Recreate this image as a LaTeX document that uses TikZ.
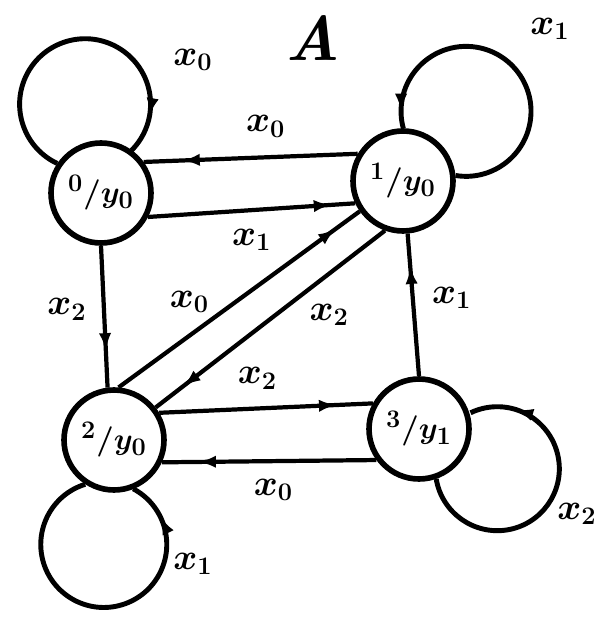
\documentclass[tikz,border=0pt]{standalone}
\usepackage{amsmath}
\usepackage{amssymb}
\usepackage{tikz}
\usetikzlibrary{arrows.meta,positioning,calc,decorations.markings,backgrounds}
\tikzstyle{state} = [draw, circle, line width=3.2pt, fill=white, minimum size=2cm, inner sep=0pt, font=\fontsize{19}{22}\selectfont\boldmath]
\tikzstyle{trans} = [line width=2.4pt]
\tikzstyle{loopline} = [line width=2.8pt]
\tikzstyle{lbl} = [font=\fontsize{21}{25}\selectfont\boldmath]
\tikzset{arr/.style={postaction={decorate}, decoration={markings, mark=at position #1 with {\arrow{Latex[length=10pt,width=7pt]}}}}}

\begin{document}
\begin{tikzpicture}[x=0.02cm, y=-0.02cm]
    \useasboundingbox (0,0) rectangle (604,617);
    % States
    \node [state] (q0) at (101,193) {$^{0}/y_{0}$};
    \node [state] (q1) at (403,181) {$^{1}/y_{0}$};
    \node [state] (q2) at (114,440) {$^{2}/y_{0}$};
    \node [state] (q3) at (419,429) {$^{3}/y_{1}$};
    \node [font=\fontsize{36}{40}\selectfont\bfseries\itshape] (title) at (313,38) {A};

    % Transitions
    \draw [trans, arr=0.82] (q1.149) -- node [lbl, pos=0.43, shift={(0,-31)}] {$x_0$} (q0.36);
    \draw [trans, arr=0.885] (q0.333) -- node [lbl, pos=0.5, shift={(0,30)}] {$x_1$} (q1.205);
    \draw [trans, arr=0.74] (q0.270) -- node [lbl, pos=0.45, shift={(-37,0)}] {$x_2$} (q2.97);
    \draw [trans, arr=0.9] (q2.85) -- node [lbl, pos=0.36, shift={(-16,-22)}] {$x_0$} (q1.215);
    \draw [trans, arr=0.88] (q1.250) -- node [lbl, pos=0.33, shift={(20,26)}] {$x_2$} (q2.38);
    \draw [trans, arr=0.77] (q3.90) -- node [lbl, pos=0.55, shift={(39,0)}] {$x_1$} (q1.275);
    \draw [trans, arr=0.83] (q2.31) -- node [lbl, pos=0.46, shift={(0,-30)}] {$x_2$} (q3.151);
    \draw [trans, arr=0.83] (q3.216) -- node [lbl, pos=0.48, shift={(0,29)}] {$x_0$} (q2.335);

    % Self-loops
    \begin{scope}[on background layer]
        \draw [loopline, arr=0.88] (q0.146.5) arc [start angle=244.8, end angle=-44.8, radius=1.31cm];
        \draw [loopline, arr=0.947] (q1.6.5) arc [start angle=260.7, end angle=555.5, radius=1.3cm];
        \draw [loopline, arr=0.885] (q2.237.5) arc [start angle=107.1, end angle=422.1, radius=1.26cm];
        \draw [loopline, arr=0.85] (q3.289.7) arc [start angle=189.5, end angle=475.6, radius=1.24cm];
    \end{scope}
    \node [lbl] (lp0) at (193,60) {$x_0$};
    \node [lbl] (lp1) at (550,29) {$x_1$};
    \node [lbl] (lp2) at (193,564) {$x_1$};
    \node [lbl] (lp3) at (577,514) {$x_2$};
\end{tikzpicture}
\end{document}
